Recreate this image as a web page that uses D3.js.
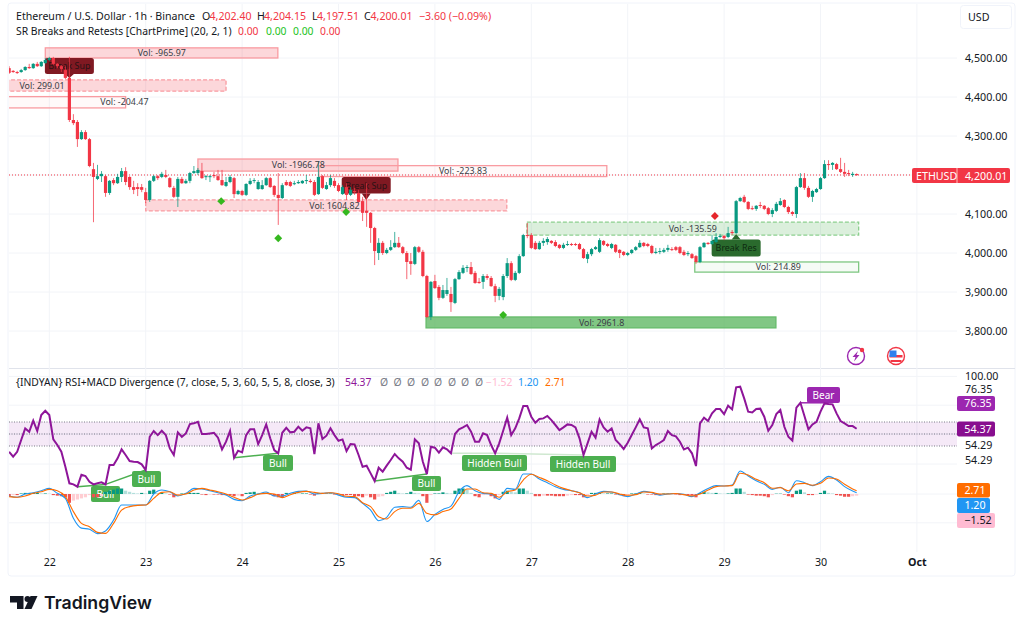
<!DOCTYPE html>
<html>
<head>
<meta charset="utf-8">
<title>ETHUSD 1h</title>
<script src="https://cdn.jsdelivr.net/npm/d3@7"></script>
<style>
  body { margin: 0; background: #fff; }
  text { font-family: "Noto Sans", sans-serif; fill: #131722; }
</style>
</head>
<body>
<div id="chart"></div>
<script>
// Candles run hourly, hour 0 is midnight of the 22nd
var firstHour = -10;

var opens = [4474,4467,4464,4464,4469,4477,4474,4485,4479,4487,
  4495,4500,4485,4479,4469,4449,4341,4336,4292,4310,4292,4215,4190,4197,4197,4154,4187,4179,4195,4210,4195,4169,4169,4169,
  4156,4136,4185,4197,4195,4200,4192,4167,4144,4190,4179,4185,4205,4205,4210,4195,4195,4200,4197,4187,4172,4182,4192,4151,
  4159,4149,4177,4185,4164,4164,4174,4192,4172,4149,4141,4182,4182,4177,4179,4179,4185,4185,4182,4151,4197,4164,4174,4185,
  4174,4151,4169,4149,4159,4154,4133,4108,4103,4064,4000,4026,4000,4008,4015,4026,4015,4000,3979,3972,4015,4003,3941,3836,
  3928,3913,3885,3895,3895,3872,3933,3949,3962,3964,3949,3926,3926,3941,3936,3915,3890,3887,3941,3974,3931,3949,3992,4046,
  4046,4026,4010,4026,4028,4031,4028,4021,4013,4021,4023,4023,4023,4010,3985,3997,4010,4003,4031,4023,4013,4021,4008,4003,
  3995,4000,4008,4015,4026,4023,4018,4000,4003,4003,4008,4010,4015,4015,4003,3997,3997,3992,3977,4015,4026,4023,4028,4041,
  4044,4041,4054,4051,4133,4144,4131,4115,4113,4123,4121,4115,4100,4108,4123,4136,4118,4105,4100,4169,4192,4167,4144,4156,
  4164,4192,4228,4226,4228,4215,4208,4205,4200,4202.4];

var closes = [4462,4464,4462,4469,4477,4474,4485,4479,4490,4495,
  4500,4485,4479,4472,4449,4341,4333,4292,4310,4292,4223,4195,4197,4203,4154,4185,4179,4195,4210,4182,4169,4162,4164,4162,
  4136,4185,4197,4192,4203,4195,4169,4144,4190,4179,4185,4205,4210,4213,4192,4197,4197,4197,4187,4174,4182,4195,4151,4159,
  4149,4177,4185,4187,4182,4174,4192,4169,4149,4141,4174,4174,4172,4179,4182,4185,4187,4182,4149,4195,4167,4174,4192,4172,
  4159,4169,4149,4162,4156,4131,4103,4103,4064,4005,4026,4000,4008,4015,4026,4015,4000,3977,3972,4015,4003,3941,3836,3926,
  3910,3885,3905,3905,3874,3933,3951,3962,3964,3946,3923,3923,3941,3936,3915,3890,3908,3941,3974,3931,3949,3992,4046,4044,
  4013,4010,4026,4031,4036,4026,4018,4013,4021,4023,4021,4021,4010,3987,3997,4010,4015,4033,4021,4018,4023,4003,4000,3995,
  4000,4008,4015,4026,4018,4018,4000,4003,4005,4008,4013,4008,4008,4000,3995,4000,3987,3977,4015,4026,4023,4031,4041,4044,
  4038,4051,4051,4133,4141,4131,4113,4113,4121,4121,4113,4100,4110,4126,4133,4118,4105,4100,4169,4192,4167,4144,4159,4164,
  4192,4228,4226,4231,4215,4208,4203,4203,4203,4200.01];

var highs = [4479,4469,4467,4472,4479,4485,4487,4490,4492,4500,
  4503,4503,4487,4482,4479,4503,4356,4341,4315,4315,4295,4231,4226,4210,4200,4187,4192,4203,4218,4220,4197,4185,4179,4177,
  4167,4187,4200,4200,4208,4213,4195,4172,4195,4195,4190,4208,4223,4218,4231,4200,4200,4208,4213,4213,4195,4200,4195,4162,
  4162,4179,4192,4192,4187,4187,4195,4195,4174,4205,4179,4187,4185,4185,4187,4187,4200,4190,4187,4233,4200,4182,4200,4192,
  4179,4174,4179,4169,4167,4162,4144,4179,4105,4067,4038,4031,4013,4033,4054,4041,4018,4005,4000,4018,4018,4008,3944,3928,
  3944,3918,3918,3936,3913,3936,3956,3969,3969,3977,3954,3936,3946,3946,3941,3921,3913,3946,3987,3979,3954,3997,4049,4077,
  4051,4031,4031,4038,4041,4033,4033,4023,4026,4031,4026,4026,4026,4013,4003,4013,4018,4038,4033,4026,4026,4023,4010,4005,
  4003,4010,4018,4033,4028,4026,4021,4013,4013,4013,4021,4015,4018,4018,4008,4005,4000,3995,4018,4028,4028,4046,4051,4049,
  4046,4067,4059,4136,4144,4149,4133,4121,4123,4131,4123,4118,4115,4131,4141,4138,4121,4108,4172,4205,4205,4172,4162,4167,
  4195,4238,4238,4233,4231,4244,4231,4213,4208,4204.15];

var lows = [4459,4462,4459,4462,4467,4472,4472,4477,4477,4485,
  4492,4482,4474,4464,4446,4336,4328,4272,4290,4290,4220,4079,4187,4182,4144,4149,4174,4177,4182,4174,4162,4151,4146,4156,
  4128,4131,4182,4187,4192,4192,4167,4141,4118,4177,4177,4179,4203,4200,4190,4187,4182,4192,4185,4172,4169,4179,4141,4149,
  4146,4146,4174,4179,4162,4162,4172,4167,4144,4072,4138,4172,4169,4174,4177,4177,4177,4179,4146,4149,4164,4162,4169,4167,
  4156,4149,4136,4146,4149,4128,4082,4067,4026,3969,3982,3995,3997,4005,4013,4013,3997,3933,3944,3969,4000,3938,3833,3828,
  3908,3879,3882,3890,3849,3869,3931,3946,3951,3944,3921,3921,3908,3931,3913,3874,3879,3879,3936,3928,3928,3946,3990,4038,
  4010,4008,4008,4018,4021,4023,4015,4010,4010,4018,4018,4018,4008,3985,3974,3992,4008,4000,4018,4015,4010,4000,3987,3992,
  3992,3997,4005,4013,4015,4015,3997,3997,3997,4000,4003,4005,4005,3997,3992,3992,3985,3972,3974,4013,4021,4021,4026,4038,
  4033,4038,4046,4049,4131,4128,4110,4110,4108,4115,4110,4097,4092,4105,4121,4115,4100,4095,4090,4167,4162,4141,4131,4154,
  4162,4190,4213,4213,4213,4205,4195,4197,4195,4197.51];

// RSI, one value per candle
var rsiValues = [35.2,31.1,35.2,45,54.7,51.9,61.1,52.5,65.8,69.4,
  65.8,45.5,40.8,35.2,22.7,8.9,8,6.1,16.1,15,10.2,8,8.9,9.7,8,24.1,24.1,29.7,37.2,32.5,27.5,26.9,26.6,24.7,
  20,47.7,52.5,49.1,52.7,49.1,38,32.5,51.4,47.7,50.5,58.3,58.9,60.2,50,50,50.5,51,46.9,37.2,43.6,52.5,30.2,36.1,
  34.7,49.1,53.9,53.9,41.6,49.1,58,46.4,36.6,33.9,51,55.2,51.4,51.9,56.1,52.7,55.5,54.7,33.3,58.9,45.8,48.6,54.7,49.1,
  44.4,45.5,35.8,41.6,41.3,32.5,22.7,23.6,17.2,10.8,21.9,18.6,23.6,28.3,33.3,29.7,26.9,21.9,20.2,45.5,42.2,26.9,16.6,39.4,
  38.6,34.4,38.9,37.2,33.9,50,53.9,55.5,57.5,51.9,43.6,43.6,50.5,49.1,40.8,33.9,42.2,52.7,63.6,49.1,54.7,63,73.3,73.3,
  64.4,59.4,62.5,63,65,61.6,57.5,53.3,55.5,58,57.5,55.5,46.4,32.5,42.2,51.9,46.9,62.2,55.5,51.9,54.7,45,41.6,37.5,
  42.7,49.1,55.5,62.2,55.5,54.7,38,40.8,42.7,45,52.5,49.1,48,43.6,37.2,38.6,33.9,23.3,58.8,63.6,60.8,67.2,70.8,70.8,
  66.6,73.6,70.5,88.9,89.4,79.7,68.6,68,70.8,71.1,64.4,52.7,57.5,66.6,70,56,47.7,44.4,71.9,76,65,53.9,58,60.2,
  68.6,75.5,75,74.7,67.2,60.8,58.8,56.6,56.6,54.37];

// MACD and signal were read every second candle, the last one is the final candle
var macdHours = d3.range(-10, 201, 2).concat([201]);

var macdValues = [-1.8,-3,0,1.2,3,5.1,0.6,-4,-22,-31,-32,-36,-33.6,-23.7,-10,-10,-10,-10,0,3.6,2,-1.8,0.6,5.1,4.5,3,1.2,-0.9,-4.9,-6.1,
  -1.8,0,1.8,-1.8,-1.8,0.6,2.4,2.7,0,0.6,1.2,-1,-3,-3.3,-8.5,-14.6,-24.3,-21.2,-12,-11.5,-12,-5.8,-25,-18.5,-14,-11,2.1,7.6,3,0.6,
  0,-4.9,5.1,4.2,18.2,18.2,13.6,10.3,6.6,4.2,3,1.2,-3.3,0,2.4,1.8,-0.6,-2.4,0,2.4,1.2,-1,0,0.5,-0.3,-2.4,1.2,5.1,7.6,7.3,
  8.2,20.9,16.4,12.1,8.8,4.2,6.1,1.2,12.1,10.3,7.6,11.2,16,12.7,6.7,2.7,1.2];

var signalValues = [-2.4,-3,-1.8,0.6,2.1,4.2,3,-2.4,-16,-26.7,-29.7,-34.9,-35.8,-26.7,-14.6,-11.5,-10.3,-10,-4,1.5,2,-1,0,3.6,5.1,3.6,2,0,-3,-5.5,
  -3.3,-0.3,0.6,0,-3.3,-0.6,1.5,2.4,1.5,0.6,1.2,0.3,-2.1,-2.4,-7.9,-11.5,-20.6,-22.7,-16,-13,-13,-8.5,-17.6,-19,-16,-13.6,-4,4.5,4.5,1.2,
  0.6,-3,2,3.6,12.7,17.9,15.1,12.1,8.2,5.1,3,1.2,-1.8,-1,1.8,1.8,0,-1.2,-0.6,1.8,1.5,0,0,0.5,-0.6,-1.8,0,3.6,6.7,7.3,
  7.6,18.8,17.3,13.3,10.3,5.2,5.8,3,9.1,9.7,7.9,9.7,14.6,13.7,8.8,4.6,3];

// Histogram, one value per candle
var histValues = [-2,-1,-1,0.5,1,1,1,1,0.5,0.5,
  0.3,-1,-1.5,-2,-3,-8,-6,-5,-4,-3,-1,-3,-3,-2,2,3,4,5,5,3,2,1,0.5,1,
  0.5,3,4,1,1,0.5,-0.5,-3,-1,0.5,0.5,1,1,1,-0.5,-1,-0.5,-0.5,-0.5,-1,-1,-1,-2,-1.5,
  -2,1,1.5,2,1,0.5,1,-0.5,-2,-3,-3,1,0.5,1,0.5,0.5,0.5,-0.5,-1.5,1,0.5,0.5,0.5,-0.5,
  -0.5,-1,-1,-1,-2,-2,-3,-1.5,-3,-5,-2.5,-2,1,2,3,1,0.5,0.5,2,1,0.5,-2,-8,-1,
  0.5,0.5,1.5,1,0.5,3,5,5,4,1,-2,-3,-1,-0.5,-2,-4,-1,2,3,2,1.5,5,5,3,
  1,-2,-2,-1.5,-1.5,-1.5,-2,-2,-2,-1.5,-1,-1,-1,-3,-1.5,1,1,1,0.5,0.5,0.5,-0.5,-1,-2,
  -1,0.5,0.5,1,0.5,-0.5,-0.5,-1,-1,0.5,0.5,0.5,-0.5,-1,-1,-1,-1.5,-3,1,2,1.5,1,1,0.5,
  0.3,0.5,1,5,5,2,-0.5,-1,-1.5,-1.5,-2,-3,-1,0.3,0.3,-0.5,-2,-3,3,4,1.5,-1,-1,-0.5,
  1,3,1,0.5,-1,-1.5,-2.5,-2.5,-2,-1.52];

var priceTicks = [3800, 3900, 4000, 4100, 4200, 4300, 4400, 4500];
var lastPrice = 4200.01;
var dayTicks = [0, 24, 48, 72, 96, 120, 144, 168, 192, 216];
var dayLabels = ["22", "23", "24", "25", "26", "27", "28", "29", "30", "Oct"];

// Grid levels of the lower pane, on the RSI scale
var lowerGrid = [98, 74, 50, 25, 0, -24];

// Support and resistance zones of the overlay: start hour, end hour, top, bottom, label
var zoneStart = [-1, -14, -14, 37, 67.1, 24, 118.9, 160.7, 93.8];
var zoneEnd = [56.9, 44, 19, 86.8, 138.8, 113.9, 201.5, 201.5, 180.9];
var zoneTop = [4526, 4444, 4401, 4241, 4224, 4136, 4079, 3977, 3836];
var zoneBottom = [4500, 4415, 4372, 4210, 4196, 4108, 4046, 3951, 3808];
var zoneLabels = ["Vol: -965.97", "Vol: 299.01", "Vol: -204.47", "Vol: -1966.78", "Vol: -223.83", "Vol: 1604.82", "Vol: -135.59", "Vol: 214.89", "Vol: 2961.8"];
var zoneTextHour = [28, -1.8, 18.7, 62, 103, 71, 160.2, 181.5, 137.5];
var zoneKinds = ["redSolid", "redDash", "redThin", "redSolid", "redThin", "redDash", "greenDash", "greenThin", "greenFull"];

// Diamond markers of the overlay
var diamondHours = [42.8, 57, 73.9, 113, 165.7];
var diamondPrices = [4133, 4038, 4105, 3841, 4095];
var diamondKinds = ["up", "up", "up", "up", "down"];

var width = 1024, height = 630;
var chartLeft = 9, chartRight = 957;

var x = d3.scaleLinear().domain([0, 24]).range([49.3, 145.7]);
var y = d3.scaleLinear().domain([3800, 4500]).range([331, 58]);
var rsiY = d3.scaleLinear().domain([40, 60]).range([446, 422]);
var macdY = d3.scaleLinear().domain([-20, 20]).range([516, 472]);

var green = "#089981", red = "#f23645";

var svg = d3.select("#chart").append("svg")
  .attr("width", width)
  .attr("height", height)
  .style("display", "block");

svg.append("clipPath").attr("id", "paneClip").append("rect")
  .attr("x", chartLeft).attr("y", 4).attr("width", chartRight - chartLeft).attr("height", 548);

// Outer frame and pane divider
svg.append("rect").attr("x", 8).attr("y", 3).attr("width", 1007).attr("height", 573).attr("rx", 3)
  .attr("fill", "none").attr("stroke", "#f0f3fa");
svg.append("line").attr("x1", 9).attr("x2", 1015).attr("y1", 368.5).attr("y2", 368.5).attr("stroke", "#e0e3eb");

// Grid lines
var grid = svg.append("g").attr("stroke", "#f2f4f8");
grid.selectAll(".v").data(dayTicks).join("line")
  .attr("x1", d => x(d)).attr("x2", d => x(d)).attr("y1", 4).attr("y2", 552);
grid.selectAll(".h").data(priceTicks).join("line")
  .attr("x1", chartLeft).attr("x2", chartRight).attr("y1", d => y(d)).attr("y2", d => y(d));
grid.selectAll(".r").data(lowerGrid).join("line")
  .attr("x1", chartLeft).attr("x2", chartRight).attr("y1", d => rsiY(d)).attr("y2", d => rsiY(d));

// Price axis on the right
var priceAxis = svg.append("g")
  .attr("transform", "translate(" + 957 + ",0)")
  .call(d3.axisRight(y).tickValues(priceTicks).tickSize(0).tickPadding(8).tickFormat(d3.format(",.2f")));
priceAxis.select(".domain").remove();
priceAxis.selectAll("text").style("font-family", '"Noto Sans", sans-serif').style("font-size", "10.7px").attr("fill", "#131722");

// Time axis
var timeAxis = svg.append("g")
  .attr("transform", "translate(0,556)")
  .call(d3.axisBottom(x).tickValues(dayTicks).tickSize(0).tickPadding(2).tickFormat((d, i) => dayLabels[i]));
timeAxis.select(".domain").remove();
timeAxis.selectAll("text").style("font-family", '"Noto Sans", sans-serif').style("font-size", "10.7px")
  .attr("fill", "#131722").style("font-weight", (d, i) => dayLabels[i] == "Oct" ? 700 : 400);

// USD button
svg.append("rect").attr("x", 960.5).attr("y", 5.5).attr("width", 51).attr("height", 23).attr("rx", 3)
  .attr("fill", "#fff").attr("stroke", "#f0f3fa");
svg.append("text").attr("x", 968).attr("y", 21).attr("font-size", 10.7).text("USD");

// Zones
var zoneStyles = {
  redSolid: { fill: "rgba(242,54,69,0.2)", stroke: "#f99ba1", dash: null },
  redDash: { fill: "rgba(242,54,69,0.2)", stroke: "#f99ba1", dash: "4,2" },
  redThin: { fill: "rgba(242,54,69,0.03)", stroke: "#f99ba1", dash: null },
  greenDash: { fill: "rgba(76,175,80,0.2)", stroke: "#8ccf8e", dash: "4,2" },
  greenThin: { fill: "rgba(76,175,80,0.05)", stroke: "#7fc782", dash: null },
  greenFull: { fill: "rgba(76,175,80,0.7)", stroke: "#66bb6a", dash: null }
};

var panes = svg.append("g").attr("clip-path", "url(#paneClip)");

panes.selectAll(".zone").data(zoneLabels).join("rect")
  .attr("x", (d, i) => x(zoneStart[i]))
  .attr("width", (d, i) => x(zoneEnd[i]) - x(zoneStart[i]))
  .attr("y", (d, i) => y(zoneTop[i]))
  .attr("height", (d, i) => y(zoneBottom[i]) - y(zoneTop[i]))
  .attr("fill", (d, i) => zoneStyles[zoneKinds[i]].fill)
  .attr("stroke", (d, i) => zoneStyles[zoneKinds[i]].stroke)
  .attr("stroke-width", 1.3)
  .attr("stroke-dasharray", (d, i) => zoneStyles[zoneKinds[i]].dash);

// Last price line
panes.append("line").attr("x1", chartLeft).attr("x2", chartRight)
  .attr("y1", y(lastPrice)).attr("y2", y(lastPrice))
  .attr("stroke", red).attr("stroke-width", 1).attr("stroke-dasharray", "1,2");

// Speech-bubble labels, tip is where the label points at
function bubble(g, label, tipX, tipY, boxTop, boxBottom, boxW, fill, textFill, size) {
  var left = tipX - boxW / 2;
  g.append("rect").attr("x", left).attr("y", boxTop).attr("width", boxW).attr("height", boxBottom - boxTop)
    .attr("rx", 2.5).attr("fill", fill);
  var baseY = tipY > boxBottom ? boxBottom : boxTop;
  g.append("path").attr("d", "M" + (tipX - 4.5) + " " + baseY + "L" + tipX + " " + tipY + "L" + (tipX + 4.5) + " " + baseY + "Z")
    .attr("fill", fill);
  g.append("text").attr("x", tipX).attr("y", (boxTop + boxBottom) / 2 + 3.3)
    .attr("text-anchor", "middle").attr("font-size", size).style("fill", textFill).text(label);
}

bubble(panes, "Break Sup", x(5), 78, 58, 74, 49, "#801922", "#2a1215", 8.9);
bubble(panes, "Break Sup", x(78.9), 200, 177, 193.5, 49, "#801922", "#2a1215", 8.9);
bubble(panes, "Break Res", x(171), 234, 239.5, 256.5, 49, "#2a6a2d", "#0d2a10", 8.9);

// Candles: wick then body
var candles = panes.append("g");
candles.selectAll(".wick").data(opens).join("line")
  .attr("x1", (d, i) => x(firstHour + i)).attr("x2", (d, i) => x(firstHour + i))
  .attr("y1", (d, i) => y(highs[i])).attr("y2", (d, i) => y(lows[i]))
  .attr("stroke", (d, i) => closes[i] >= opens[i] ? green : red)
  .attr("stroke-opacity", 0.75);
candles.selectAll(".body").data(opens).join("rect")
  .attr("x", (d, i) => x(firstHour + i) - 1.6)
  .attr("width", 3.2)
  .attr("y", (d, i) => y(Math.max(opens[i], closes[i])))
  .attr("height", (d, i) => Math.max(1, Math.abs(y(opens[i]) - y(closes[i]))))
  .attr("fill", (d, i) => closes[i] >= opens[i] ? green : red);

// Zone texts sit on top of the candles
panes.selectAll(".zoneText").data(zoneLabels).join("text")
  .attr("x", (d, i) => x(zoneTextHour[i]))
  .attr("y", (d, i) => (y(zoneTop[i]) + y(zoneBottom[i])) / 2 + 3.2)
  .attr("text-anchor", "middle")
  .attr("font-size", 8.9)
  .style("fill", "#3a3d46")
  .text(d => d);

panes.selectAll(".diamond").data(diamondHours).join("path")
  .attr("d", d3.symbol().type(d3.symbolDiamond2).size(40))
  .attr("transform", (d, i) => "translate(" + x(d) + "," + y(diamondPrices[i]) + ")")
  .attr("fill", (d, i) => diamondKinds[i] == "up" ? "#35b81f" : "#e5262b");

// RSI band
panes.append("rect").attr("x", chartLeft).attr("width", chartRight - chartLeft)
  .attr("y", rsiY(60)).attr("height", rsiY(40) - rsiY(60)).attr("fill", "rgba(155,39,176,0.1)");
panes.selectAll(".bandLine").data([60, 50, 40]).join("line")
  .attr("x1", chartLeft).attr("x2", chartRight).attr("y1", d => rsiY(d)).attr("y2", d => rsiY(d))
  .attr("stroke", "#787b86").attr("stroke-dasharray", "1,1.5");

// Divergence labels with their connecting lines
var divFrom = [[7, 6.1], [14, 8], [46, 30.2], [81, 10.8], [100, 33.9], [111, 33.9]];
var divTo = [[14, 8], [24, 20], [57, 33.9], [94, 16.6], [111, 33.9], [133, 32.5]];
var divColor = ["#4caf50", "#4caf50", "#4caf50", "#4caf50", "#cfe8d0", "#cfe8d0"];

panes.selectAll(".div").data(divFrom).join("line")
  .attr("x1", d => x(d[0])).attr("y1", d => rsiY(d[1]))
  .attr("x2", (d, i) => x(divTo[i][0])).attr("y2", (d, i) => rsiY(divTo[i][1]))
  .attr("stroke", (d, i) => divColor[i]).attr("stroke-width", 1.5);
panes.append("line").attr("x1", x(187)).attr("x2", x(193))
  .attr("y1", rsiY(76)).attr("y2", rsiY(76)).attr("stroke", "#9c27b0").attr("stroke-width", 1.5);

function tagBox(g, label, left, right, top, bottom, fill, textFill, size, textX) {
  g.append("rect").attr("x", left).attr("y", top).attr("width", right - left).attr("height", bottom - top)
    .attr("rx", 2).attr("fill", fill);
  g.append("text").attr("x", textX || (left + right) / 2).attr("y", (top + bottom) / 2 + 3.8)
    .attr("text-anchor", "middle").attr("font-size", size).style("fill", textFill).text(label);
}

tagBox(panes, "Bull", 91, 120, 486, 502, "#4caf50", "#fff", 10);
tagBox(panes, "Bull", 132, 161, 471, 487, "#4caf50", "#fff", 10);
tagBox(panes, "Bull", 263, 293, 455, 471, "#4caf50", "#fff", 10);
tagBox(panes, "Bull", 412, 441, 476, 491, "#4caf50", "#fff", 10);
tagBox(panes, "Hidden Bull", 462, 527, 455, 471, "#4caf50", "#fff", 10);
tagBox(panes, "Hidden Bull", 550, 616, 456, 472, "#4caf50", "#fff", 10);
tagBox(panes, "Bear", 807, 840, 387, 403, "#9c27b0", "#fff", 10);

// MACD histogram, four shades depending on sign and direction
function histColor(d, i) {
  var prev = i > 0 ? histValues[i - 1] : 0;
  if (d >= 0) return d >= prev ? "#089981" : "#b2dfdb";
  return d <= prev ? "#ef5350" : "#ffcdd2";
}

panes.selectAll(".hist").data(histValues).join("rect")
  .attr("x", (d, i) => x(firstHour + i) - 1.6)
  .attr("width", 3.2)
  .attr("y", d => Math.min(macdY(d), macdY(0)))
  .attr("height", d => Math.abs(macdY(d) - macdY(0)))
  .attr("fill", histColor);

var macdLine = d3.line().x((d, i) => x(macdHours[i])).y(d => macdY(d)).curve(d3.curveMonotoneX);
panes.append("path").attr("d", macdLine(macdValues)).attr("fill", "none").attr("stroke", "#2196f3").attr("stroke-width", 1.1);
panes.append("path").attr("d", macdLine(signalValues)).attr("fill", "none").attr("stroke", "#ff6d00").attr("stroke-width", 1.1);

var rsiLine = d3.line().x((d, i) => x(firstHour + i)).y(d => rsiY(d));
panes.append("path").attr("d", rsiLine(rsiValues)).attr("fill", "none").attr("stroke", "#8e1599").attr("stroke-width", 2);

// Legend lines
function legend(items, baseline, size) {
  var g = svg.append("g").attr("font-size", size);
  items.forEach(function (it) {
    g.append("text").attr("x", it[0]).attr("y", baseline).style("fill", it[2] || "#131722").text(it[1]);
  });
}

legend([[16, "Ethereum / U.S. Dollar · 1h · Binance"],
  [202, "O"], [209.5, "4,202.40", red], [257, "H"], [264, "4,204.15", red],
  [312, "L"], [317, "4,197.51", red], [364, "C"], [370.5, "4,200.01", red], [419, "−3.60 (−0.09%)", red]], 19.5, 10.6);

legend([[16, "SR Breaks and Retests [ChartPrime] (20, 2, 1)"],
  [238, "0.00", red], [266, "0.00", "#22c322"], [293, "0.00", "#22c322"], [320, "0.00", red]], 34.5, 10.35);

legend([[16, "{INDYAN} RSI+MACD Divergence (7, close, 5, 3, 60, 5, 5, 8, close, 3)"],
  [345, "54.37", "#8e1599"],
  [380, "Ø", "#787b86"], [393.5, "Ø", "#787b86"], [407, "Ø", "#787b86"], [421, "Ø", "#787b86"],
  [434, "Ø", "#787b86"], [448, "Ø", "#787b86"], [461, "Ø", "#787b86"], [475, "Ø", "#787b86"],
  [486, "−1.52", "#ffbbd2"], [518, "1.20", "#2196f3"], [545, "2.71", "#ff6d00"]], 386, 10.35);

// Right hand tags of the lower pane
var scaleLabels = ["100.00", "76.35", "54.29", "54.29"];
var scaleLabelY = [376, 389, 445, 460];
svg.selectAll(".scaleLabel").data(scaleLabels).join("text")
  .attr("x", 965).attr("y", (d, i) => scaleLabelY[i] + 4).attr("font-size", 10.7).text(d => d);

tagBox(svg, "76.35", 957, 995, 396, 411, "#9c27b0", "#fff", 10.7, 978);
tagBox(svg, "54.37", 957, 995, 421.5, 436.5, "#880e8f", "#fff", 10.7, 978);
tagBox(svg, "2.71", 957, 990, 483, 497.5, "#ff6d00", "#fff", 10.7, 975);
tagBox(svg, "1.20", 957, 990, 498, 513, "#2196f3", "#fff", 10.7, 975);
tagBox(svg, "−1.52", 957, 995, 513, 528, "#ffbbd2", "#131722", 10.7, 978);

// Last price tag
svg.append("rect").attr("x", 912).attr("y", 168).attr("width", 98).attr("height", 15).attr("rx", 2).attr("fill", red);
svg.append("line").attr("x1", 957).attr("x2", 957).attr("y1", 168).attr("y2", 183).attr("stroke", "#fbb");
svg.append("text").attr("x", 916).attr("y", 179.5).attr("font-size", 10.7).style("fill", "#fff").text("ETHUSD");
svg.append("text").attr("x", 965).attr("y", 179.5).attr("font-size", 10.7).style("fill", "#fff").text("4,200.01");

// Event icons
var bolt = svg.append("g").attr("transform", "translate(856,356)");
bolt.append("circle").attr("r", 8.5).attr("fill", "#fff").attr("stroke", "#9c27b0").attr("stroke-width", 1.4);
bolt.append("path").attr("d", "M2 -5L-3.5 1H-0.5L-2 5.5L3.5 -1H0.5Z").attr("fill", "#9c27b0");
bolt.append("circle").attr("cx", 6).attr("cy", -6).attr("r", 2.2).attr("fill", red);

var flag = svg.append("g").attr("transform", "translate(896,356)");
flag.append("circle").attr("r", 8.5).attr("fill", "#fff").attr("stroke", red).attr("stroke-width", 1.4);
flag.append("path").attr("d", "M-6.5 -1H6.5V1.5H-6.5ZM-5.5 4H5.5V6H-5.5Z").attr("fill", red);
flag.append("path").attr("d", "M-6.5 -5.5H0.5V1H-6.5Z").attr("fill", "#2f80ed");

// Logo
var logo = svg.append("g").attr("fill", "#131722");
logo.append("path").attr("d", "M10 596H23.5V609H17V602.5H10Z");
logo.append("circle").attr("cx", 27.5).attr("cy", 599).attr("r", 3);
logo.append("path").attr("d", "M37.5 596L31.5 609H24.5L30.5 596Z");
svg.append("text").attr("x", 44).attr("y", 608.5).style("font-family", "Inter, sans-serif")
  .attr("font-size", 17.7).attr("font-weight", 600).text("TradingView");
</script>
</body>
</html>
